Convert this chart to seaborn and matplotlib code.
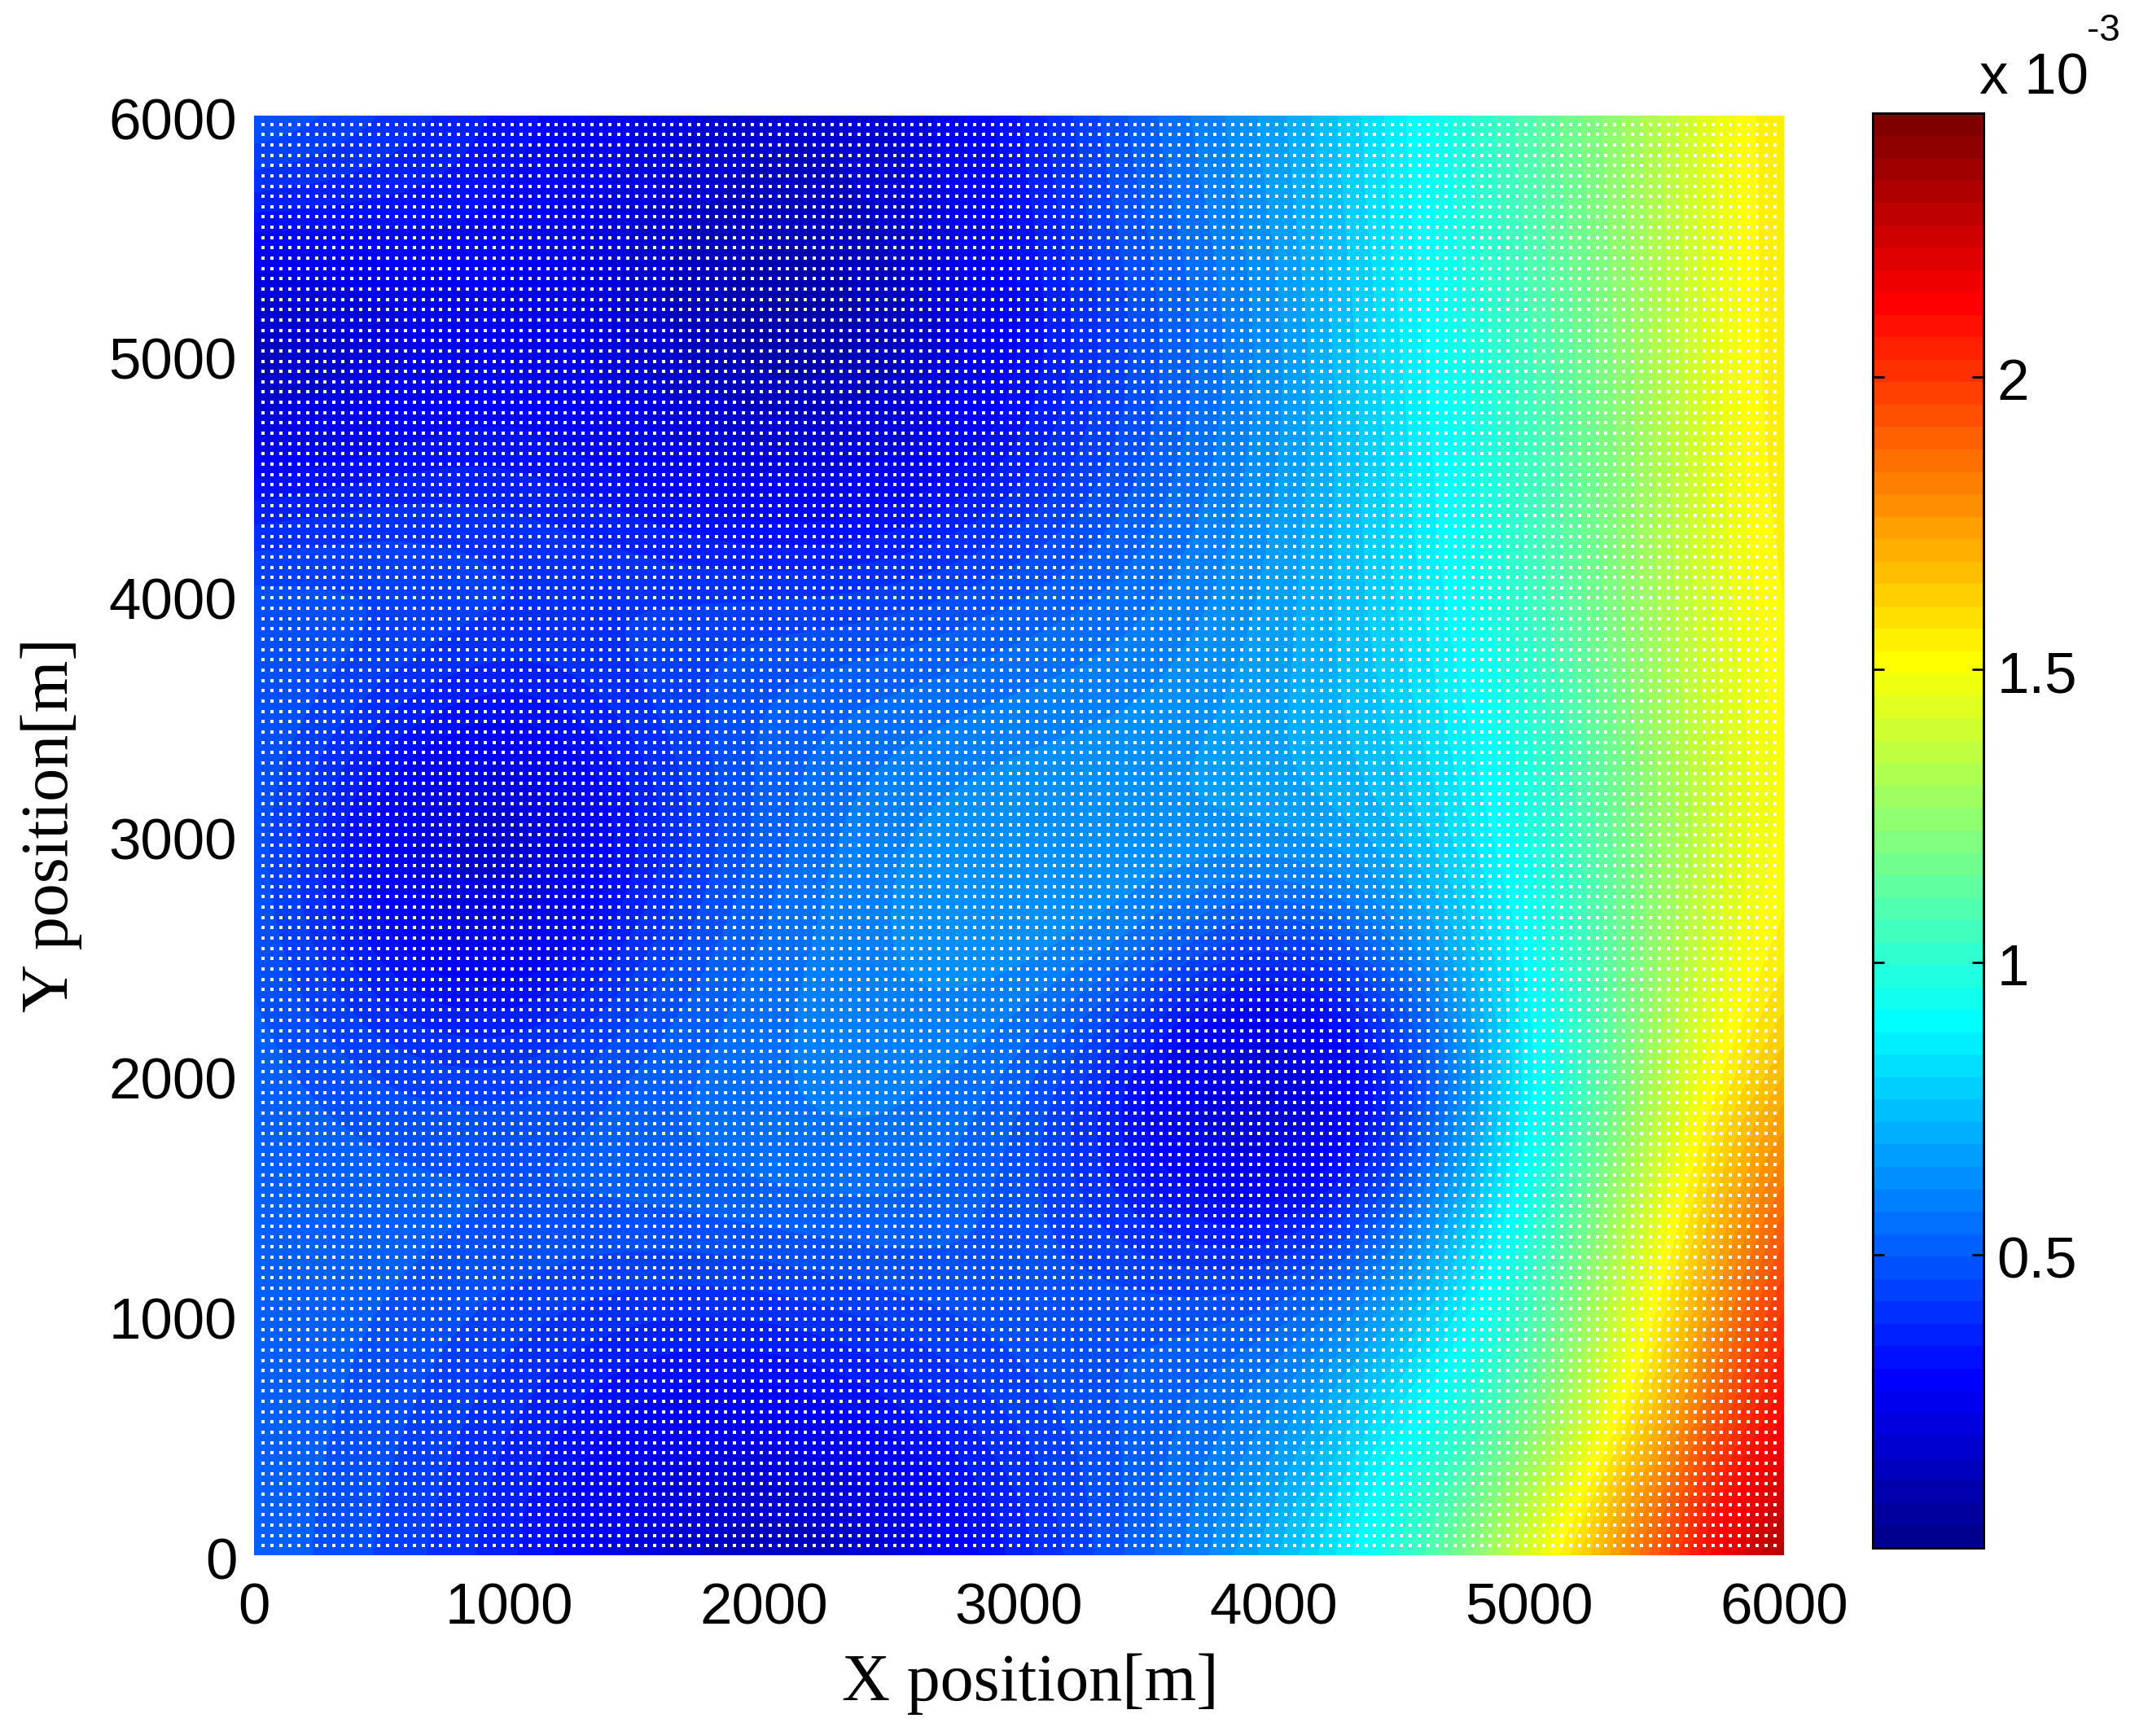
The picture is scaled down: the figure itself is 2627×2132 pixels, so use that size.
import numpy as np
import pandas as pd
import seaborn as sns
import matplotlib.pyplot as plt
from matplotlib.colors import ListedColormap
from matplotlib.transforms import ScaledTranslation

# Positions of the grid nodes (m) and values (x 10^-3)
x_nodes = [0, 500, 1000, 1500, 2000, 2500, 3000, 3500, 4000, 4500, 5000, 5500, 6000]
y_nodes = [0, 500, 1000, 1500, 2000, 2500, 3000, 3500, 4000, 4500, 5000, 5500, 6000]
row_0000 = [0.54, 0.45, 0.36, 0.20, 0.07, 0.14, 0.36, 0.52, 0.72, 1.00, 1.45, 1.95, 2.43]
row_0500 = [0.53, 0.48, 0.38, 0.26, 0.22, 0.30, 0.42, 0.52, 0.60, 0.90, 1.15, 1.70, 2.20]
row_1000 = [0.53, 0.50, 0.44, 0.38, 0.38, 0.44, 0.50, 0.50, 0.52, 0.68, 1.05, 1.50, 2.10]
row_1500 = [0.53, 0.52, 0.52, 0.52, 0.55, 0.56, 0.48, 0.34, 0.22, 0.46, 0.95, 1.40, 1.95]
row_2000 = [0.53, 0.46, 0.44, 0.52, 0.58, 0.60, 0.54, 0.24, 0.04, 0.32, 0.85, 1.30, 1.75]
row_2500 = [0.52, 0.32, 0.20, 0.42, 0.56, 0.62, 0.66, 0.58, 0.34, 0.56, 0.90, 1.25, 1.60]
row_3000 = [0.52, 0.22, 0.05, 0.32, 0.52, 0.62, 0.66, 0.66, 0.68, 0.72, 0.95, 1.25, 1.55]
row_3500 = [0.52, 0.40, 0.28, 0.42, 0.52, 0.56, 0.60, 0.62, 0.68, 0.76, 0.98, 1.28, 1.55]
row_4000 = [0.50, 0.50, 0.46, 0.44, 0.44, 0.44, 0.50, 0.56, 0.66, 0.80, 1.04, 1.30, 1.58]
row_4500 = [0.30, 0.36, 0.36, 0.30, 0.20, 0.24, 0.36, 0.50, 0.64, 0.82, 1.04, 1.30, 1.60]
row_5000 = [0.04, 0.15, 0.28, 0.17, 0.05, 0.08, 0.30, 0.48, 0.62, 0.84, 1.06, 1.30, 1.62]
row_5500 = [0.30, 0.30, 0.30, 0.17, 0.10, 0.14, 0.32, 0.50, 0.64, 0.86, 1.08, 1.30, 1.62]
row_6000 = [0.55, 0.44, 0.34, 0.24, 0.16, 0.17, 0.34, 0.54, 0.66, 0.87, 1.10, 1.32, 1.62]

axis_ticks = [0, 1000, 2000, 3000, 4000, 5000, 6000]
cbar_ticks = [0.5, 1, 1.5, 2]
cbar_labels = ['0.5', '1', '1.5', '2']

grid = pd.DataFrame([row_0000, row_0500, row_1000, row_1500, row_2000, row_2500, row_3000,
                     row_3500, row_4000, row_4500, row_5000, row_5500, row_6000],
                    index=y_nodes, columns=x_nodes)

W, H = 2627, 2132
VMAX = 2.45
sans = 'Liberation Sans'
serif = 'Liberation Serif'

# MATLAB style jet with 64 levels, matplotlib's own is a little shifted
lev = (np.arange(64) + 1) / 64
red = np.interp(lev, [0, 3 / 8, 5 / 8, 7 / 8, 1], [0, 0, 1, 1, 0.5])
green = np.interp(lev, [0, 1 / 8, 3 / 8, 5 / 8, 7 / 8, 1], [0, 0, 1, 1, 0, 0])
blue = np.interp(lev, [0, 1 / 8, 3 / 8, 5 / 8, 1], [0.5, 1, 1, 0, 0])
jet64 = ListedColormap(np.column_stack([red, green, blue]))

fig = plt.figure(figsize=(W / 100, H / 100), dpi=100, facecolor='white')
ax = fig.add_axes([312 / W, 1 - 1910 / H, 1879 / W, 1768 / H])
cax = fig.add_axes([2300 / W, 1 - 1901 / H, 136 / W, 1762 / H])

sns.heatmap(grid, ax=ax, cbar_ax=cax, cmap=jet64, vmin=0, vmax=VMAX)
# the mesh is blocky, the real one is smooth so paint the same table with bicubic
ax.imshow(grid.values, cmap=jet64, vmin=0, vmax=VMAX, origin='lower', aspect='auto',
          interpolation='bicubic', extent=(0, 13, 0, 13), zorder=2)


def to_cell(v):
    return np.asarray(v) / 500 + 0.5


# white dots of the measuring grid
dot_x, dot_y = np.meshgrid(np.linspace(35, 5965, 171), np.linspace(40, 5964, 139))
dots = pd.DataFrame({'x': to_cell(dot_x.ravel()), 'y': to_cell(dot_y.ravel())})
sns.scatterplot(data=dots, x='x', y='y', ax=ax, color='white', marker='s', s=5.2,
                linewidth=0, zorder=3, legend=False)

ax.set_xlim(to_cell(0), to_cell(6000))
ax.set_ylim(to_cell(0), to_cell(6000))
ax.set_xticks(to_cell(axis_ticks))
ax.set_xticklabels(axis_ticks, rotation=0, fontname=sans, fontsize=51)
ax.set_yticks(to_cell(axis_ticks))
ax.set_yticklabels(axis_ticks, rotation=0, fontname=sans, fontsize=51)
ax.tick_params(axis='both', length=0)
ax.tick_params(axis='x', pad=24)
ax.tick_params(axis='y', pad=15)
shift_down = ScaledTranslation(0, -11 / 100, fig.dpi_scale_trans)
for lab in ax.get_yticklabels():
    lab.set_transform(lab.get_transform() + shift_down)

ax.set_xlabel('X position[m]', fontname=serif, fontsize=59)
ax.set_ylabel('Y position[m]', fontname=serif, fontsize=59)
ax.xaxis.set_label_coords((1265 - 312) / 1879, -(2068 - 1910) / 1768)
ax.yaxis.set_label_coords(-(312 - 63) / 1879, (1910 - 1013) / 1768)
ax.xaxis.label.set_va('center')
ax.yaxis.label.set_va('center')

cax.set_yticks(cbar_ticks)
cax.set_yticklabels(cbar_labels, fontname=sans, fontsize=51)
cax.tick_params(axis='y', direction='in', left=True, right=True, length=10, width=2, pad=12)
for lab in cax.get_yticklabels():
    lab.set_transform(lab.get_transform() + ScaledTranslation(0, -3 / 100, fig.dpi_scale_trans))
for spine in cax.spines.values():
    spine.set_visible(True)
    spine.set_linewidth(2)
    spine.set_color('black')

fig.text(2431 / W, 1 - 115 / H, 'x 10', fontname=sans, fontsize=51, va='baseline')
fig.text(2563 / W, 1 - 50 / H, '-3', fontname=sans, fontsize=33, va='baseline')

fig.savefig('out.png', dpi=100)
